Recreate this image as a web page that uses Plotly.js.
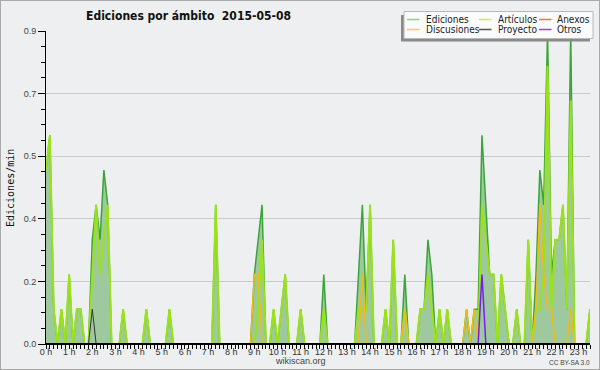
<!DOCTYPE html>
<html><head><meta charset="utf-8">
<script src="https://cdn.plot.ly/plotly-3.0.1.min.js"></script>
<style>
html,body{margin:0;padding:0;background:#eeeff0;}
#wrap{width:600px;height:370px;box-sizing:border-box;border:1px solid #a9a9a9;background:#eeeff0;overflow:hidden;}
#chart{width:598px;height:368px;}
</style></head><body><div id="wrap"><div id="chart"></div></div>
<script>
const chartTitle = 'Ediciones por ámbito\u00a0 2015-05-08';
const yTitle = 'Ediciones/min';
const stepMinutes = 10;

// one value every 10 minutes, starting 00:00 (edits per minute)
const ediciones = [
  0.5,0.6,0.1,0,0.1,0,0.2,0,0.1,0.1,0,0,
  0.3,0.4,0.3,0.5,0.4,0,0,0,0.1,0,0,0,
  0,0,0.1,0,0,0,0,0,0.1,0,0,0,
  0,0,0,0,0,0,0,0,0.4,0,0,0,
  0,0,0,0,0,0,0.2,0.3,0.4,0,0,0.1,
  0,0.1,0.2,0,0,0,0.1,0,0,0,0,0,
  0.2,0,0,0,0,0,0,0,0,0.2,0.4,0.1,
  0.4,0,0,0,0.1,0,0.3,0,0,0.2,0,0,
  0,0.1,0.1,0.3,0.2,0,0.1,0,0.1,0,0,0,
  0,0.1,0,0.1,0.1,0.6,0.4,0.2,0.2,0,0.2,0.1,
  0,0,0.1,0,0,0.3,0,0.2,0.5,0.4,0.9,0.2,
  0.3,0.3,0.4,0.1,0.9,0,0,0,0,0.1
];
const articulos = [
  0.5,0.6,0.1,0,0.1,0,0.2,0,0.1,0.1,0,0,
  0.2,0.4,0.2,0.3,0.4,0,0,0,0.1,0,0,0,
  0,0,0.1,0,0,0,0,0,0.1,0,0,0,
  0,0,0,0,0,0,0,0,0.4,0,0,0,
  0,0,0,0,0,0,0,0.1,0.3,0,0,0.1,
  0,0.1,0.2,0,0,0,0.1,0,0,0,0,0,
  0.1,0,0,0,0,0,0,0,0,0.1,0.1,0.1,
  0.4,0,0,0,0.1,0,0.3,0,0,0.1,0,0,
  0,0.1,0.1,0.2,0.1,0,0.1,0,0.1,0,0,0,
  0,0,0,0,0,0.4,0.3,0.2,0.2,0,0.2,0.1,
  0,0,0.1,0,0,0.3,0,0.1,0.1,0.2,0.8,0.1,
  0.3,0.3,0.4,0.1,0.7,0,0,0,0,0.1
];
const anexos = [
  0,0,0,0,0,0,0,0,0,0,0,0,
  0,0,0,0,0,0,0,0,0,0,0,0,
  0,0,0,0,0,0,0,0,0,0,0,0,
  0,0,0,0,0,0,0,0,0,0,0,0,
  0,0,0,0,0,0,0,0,0,0,0,0,
  0,0,0,0,0,0,0,0,0,0,0,0,
  0,0,0,0,0,0,0,0,0,0,0,0,
  0,0,0,0,0,0,0,0,0,0,0,0,
  0,0,0,0,0,0,0,0,0,0,0,0,
  0,0,0,0,0,0,0,0,0,0,0,0,
  0,0,0,0,0,0,0,0,0,0,0,0,
  0,0,0,0,0,0,0,0,0,0
];
const discusiones = [
  0,0,0,0,0,0,0,0,0,0,0,0,
  0,0,0,0,0,0,0,0,0,0,0,0,
  0,0,0,0,0,0,0,0,0,0,0,0,
  0,0,0,0,0,0,0,0,0,0,0,0,
  0,0,0,0,0,0,0.2,0.2,0,0,0,0,
  0,0,0,0,0,0,0,0,0,0,0,0,
  0,0,0,0,0,0,0,0,0,0,0.2,0,
  0,0,0,0,0,0,0,0,0,0.1,0,0,
  0,0,0,0,0,0,0,0,0,0,0,0,
  0,0.1,0,0.1,0,0,0,0,0,0,0,0,
  0,0,0,0,0,0,0,0.1,0.4,0.2,0.1,0.1,
  0,0,0,0,0.1,0,0,0,0,0
];
const proyecto = [
  0,0,0,0,0,0,0,0,0,0,0,0,
  0.1,0,0,0,0,0,0,0,0,0,0,0,
  0,0,0,0,0,0,0,0,0,0,0,0,
  0,0,0,0,0,0,0,0,0,0,0,0,
  0,0,0,0,0,0,0,0,0,0,0,0,
  0,0,0,0,0,0,0,0,0,0,0,0,
  0,0,0,0,0,0,0,0,0,0,0,0,
  0,0,0,0,0,0,0,0,0,0,0,0,
  0,0,0,0,0,0,0,0,0,0,0,0,
  0,0,0,0,0,0,0,0,0,0,0,0,
  0,0,0,0,0,0,0,0,0,0,0,0,
  0,0,0,0,0,0,0,0,0,0
];
const otros = [
  0,0,0,0,0,0,0,0,0,0,0,0,
  0,0,0,0,0,0,0,0,0,0,0,0,
  0,0,0,0,0,0,0,0,0,0,0,0,
  0,0,0,0,0,0,0,0,0,0,0,0,
  0,0,0,0,0,0,0,0,0,0,0,0,
  0,0,0,0,0,0,0,0,0,0,0,0,
  0,0,0,0,0,0,0,0,0,0,0,0,
  0,0,0,0,0,0,0,0,0,0,0,0,
  0,0,0,0,0,0,0,0,0,0,0,0,
  0,0,0,0,0,0.2,0,0,0,0,0,0,
  0,0,0,0,0,0,0,0,0,0,0,0,
  0,0,0,0,0,0,0,0,0,0
];

const hours = ediciones.map((_, i) => i * stepMinutes / 60);

const series = [
  {name:'Ediciones',   y:ediciones,   line:'#3aa63a', legend:'#8fd08f', width:1.5, fill:true},
  {name:'Artículos',   y:articulos,   line:'#9be21a', legend:'#c8ee50', width:2},
  {name:'Anexos',      y:anexos,      line:'#ee6a3a', legend:'#ee7744', width:1.5},
  {name:'Discusiones', y:discusiones, line:'#f2bb10', legend:'#ffcc44', width:1.5},
  {name:'Proyecto',    y:proyecto,    line:'#333333', legend:'#555555', width:1},
  {name:'Otros',       y:otros,       line:'#7a1cf0', legend:'#9944ee', width:1.5}
];

const traces = series.map(s => ({
  type:'scatter', mode:'lines', name:s.name, x:hours, y:s.y,
  line:{color:s.line, width:s.width},
  fill: s.fill ? 'tozeroy' : 'none',
  fillcolor: s.fill ? '#9ec99e' : undefined,
  hoverinfo:'skip', showlegend:false
}));

// plot area in page pixels (for placing legend / notes in paper coords)
const PL = 46, PR = 590, PT = 31, PB = 344;
const px = x => (x - PL) / (PR - PL);
const py = y => (PB - y) / (PB - PT);

const shapes = [
  {type:'line', xref:'paper', yref:'y', x0:0, x1:1, y0:0, y1:0, line:{color:'#000', width:2}, layer:'above'},
  {type:'rect', xref:'paper', yref:'paper', x0:px(401), x1:px(590), y0:py(41.5), y1:py(15), fillcolor:'#8a8a8a', line:{width:0}, layer:'above'},
  {type:'rect', xref:'paper', yref:'paper', x0:px(404), x1:px(593), y0:py(38.5), y1:py(11.5), fillcolor:'#fbfbfb', line:{color:'#b8b8b8', width:1}, layer:'above'}
];
const annotations = [];
const colLine = [407, 479, 539], colText = [424, 496, 555], rowY = [19.5, 29.5];
const legendOrder = ['Ediciones','Artículos','Anexos','Discusiones','Proyecto','Otros'];
legendOrder.forEach((nm, k) => {
  const s = series.find(t => t.name === nm);
  const c = k % 3, r = Math.floor(k / 3);
  shapes.push({type:'line', xref:'paper', yref:'paper', x0:px(colLine[c]), x1:px(colLine[c] + 12.5),
    y0:py(rowY[r]), y1:py(rowY[r]), line:{color:s.legend, width:1.5}, layer:'above'});
  annotations.push({xref:'paper', yref:'paper', x:px(colText[c]), y:py(rowY[r]), xanchor:'left', yanchor:'middle',
    text:nm, showarrow:false, font:{family:'DejaVu Sans Condensed, DejaVu Sans, sans-serif', size:10, color:'#222'}});
});
annotations.push({xref:'paper', yref:'paper', x:px(10), y:py(188), textangle:-90, xanchor:'center', yanchor:'middle',
  text:yTitle, showarrow:false, font:{family:'DejaVu Sans Mono, monospace', size:10, color:'#111'}});
annotations.push({xref:'paper', yref:'paper', x:px(300), y:py(361), xanchor:'center', yanchor:'middle',
  text:'wikiscan.org', showarrow:false, font:{family:'Liberation Sans, Arial, sans-serif', size:9, color:'#444'}});
annotations.push({xref:'paper', yref:'paper', x:px(569.5), y:py(362), xanchor:'center', yanchor:'middle',
  text:'CC BY-SA 3.0', showarrow:false, font:{family:'Liberation Sans, Arial, sans-serif', size:6.5, color:'#444'}});

const layout = {
  width:598, height:368,
  paper_bgcolor:'#eeeff0', plot_bgcolor:'#eeeff0',
  margin:{l:45, r:9, t:30, b:25},
  showlegend:false,
  title:{text:chartTitle, xref:'container', yref:'container', x:187.5/598, y:1 - 14.5/368,
    xanchor:'center', yanchor:'middle',
    font:{family:'DejaVu Sans Condensed, DejaVu Sans, sans-serif', size:12, color:'#111', weight:'bold'}},
  xaxis:{range:[0, 23.5], tick0:0, dtick:1, ticksuffix:' h', ticks:'outside', ticklen:4, tickwidth:1, tickcolor:'#000',
    ticklabelstandoff:-5,
    showline:true, linecolor:'#000', linewidth:1, showgrid:false, zeroline:false, fixedrange:true,
    tickfont:{family:'Liberation Sans, Arial, sans-serif', size:9, color:'#333'},
    minor:{tick0:0, dtick:1/6, ticks:'outside', ticklen:4, tickwidth:1, tickcolor:'#000', showgrid:false}},
  yaxis:{range:[0, 0.9], tick0:0, dtick:0.18, tickformat:'.1f', ticks:'outside', ticklen:7, tickwidth:1, tickcolor:'#000',
    showline:true, linecolor:'#000', linewidth:1, showgrid:true, gridcolor:'#c9c9c9', gridwidth:1, zeroline:false, fixedrange:true,
    tickfont:{family:'Liberation Sans Narrow, Liberation Sans, sans-serif', size:9, color:'#444'},
    minor:{tick0:0, dtick:0.045, ticks:'outside', ticklen:4, tickwidth:1, tickcolor:'#000', showgrid:false}},
  shapes:shapes, annotations:annotations
};

Plotly.newPlot('chart', traces, layout, {staticPlot:true, displayModeBar:false});
</script></body></html>
